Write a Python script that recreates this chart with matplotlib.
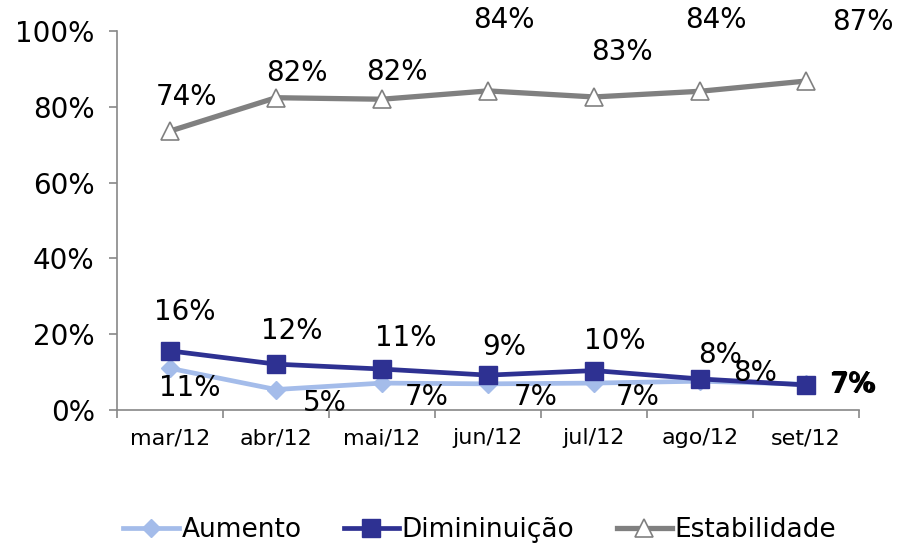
import numpy as np
from matplotlib import pyplot as plt
from matplotlib.ticker import FuncFormatter, FixedLocator

# Data
meses = ['mar/12', 'abr/12', 'mai/12', 'jun/12', 'jul/12', 'ago/12', 'set/12']
aumento = [11.0, 5.4, 7.1, 6.9, 7.1, 7.6, 6.8]
diminuicao = [15.6, 12.1, 10.8, 9.2, 10.4, 8.2, 6.6]
estabilidade = [73.6, 82.4, 82.0, 84.2, 82.6, 84.1, 86.8]

# label offsets in pixels (dx, dy), purely layout
off_aum = [(20, -20), (49, -13), (45, -14), (48, -13), (44, -14), (55, 8), (47, 0)]
off_dim = [(15, 39), (16, 33), (24, 31), (16, 28), (21, 30), (20, 24), (47, 0)]
off_est = [(17, 34), (21, 25), (15, 27), (16, 71), (28, 45), (16, 71), (57, 59)]

plt.rcParams['font.family'] = ['DejaVu Sans']

fig = plt.figure(figsize=(8.97, 5.49), dpi=100)
ax = fig.add_axes([0.1304, 0.2532, 0.8272, 0.6903])

x = np.arange(len(meses))
c_aum = '#A4BCEA'
c_dim = '#2E3192'
c_est = '#808080'

ax.plot(x, aumento, color=c_aum, lw=3.4, marker='D', markersize=9,
        markerfacecolor=c_aum, markeredgecolor=c_aum, label='Aumento', zorder=3)
ax.plot(x, diminuicao, color=c_dim, lw=3.4, marker='s', markersize=13,
        markerfacecolor=c_dim, markeredgecolor=c_dim, label='Dimininuição', zorder=4)
ax.plot(x, estabilidade, color=c_est, lw=3.8, marker='^', markersize=13,
        markerfacecolor='white', markeredgecolor=c_est, markeredgewidth=1.2,
        label='Estabilidade', zorder=5)

def rotular(vals, offs, ultimo_bold=False):
    for i, (xi, v, (dx, dy)) in enumerate(zip(x, vals, offs)):
        peso = 'bold' if (ultimo_bold and i == len(vals) - 1) else 'normal'
        ax.annotate(f'{round(v):d}%', (xi, v), xytext=(dx, dy),
                    textcoords='offset pixels', ha='center', va='center',
                    fontsize=20, fontweight=peso, color='black', zorder=6,
                    annotation_clip=False)

rotular(aumento, off_aum)
rotular(diminuicao, off_dim, ultimo_bold=True)
rotular(estabilidade, off_est)

ax.set_xlim(-0.5, len(meses) - 0.5)
ax.set_ylim(0, 100)
ax.set_yticks(np.arange(0, 101, 20))
ax.yaxis.set_major_formatter(FuncFormatter(lambda v, p: f'{int(v)}%'))
ax.set_xticks(x)
ax.set_xticklabels(meses)
ax.xaxis.set_minor_locator(FixedLocator(np.arange(-0.5, len(meses), 1.0)))

ax.tick_params(axis='y', labelsize=20, length=6, width=1.2, color='#888888', pad=10)
ax.tick_params(axis='x', which='major', labelsize=16, length=0, pad=13)
ax.tick_params(axis='x', which='minor', length=6, width=1.2, color='#888888')

for s in ['top', 'right']:
    ax.spines[s].set_visible(False)
for s in ['left', 'bottom']:
    ax.spines[s].set_color('#888888')
    ax.spines[s].set_linewidth(1.2)

fig.legend(loc='center', bbox_to_anchor=(0.535, 0.034), ncol=3, frameon=False,
           fontsize=19, handlelength=2.1, handletextpad=0.1, columnspacing=1.6)

fig.savefig('out.png', dpi=100)
